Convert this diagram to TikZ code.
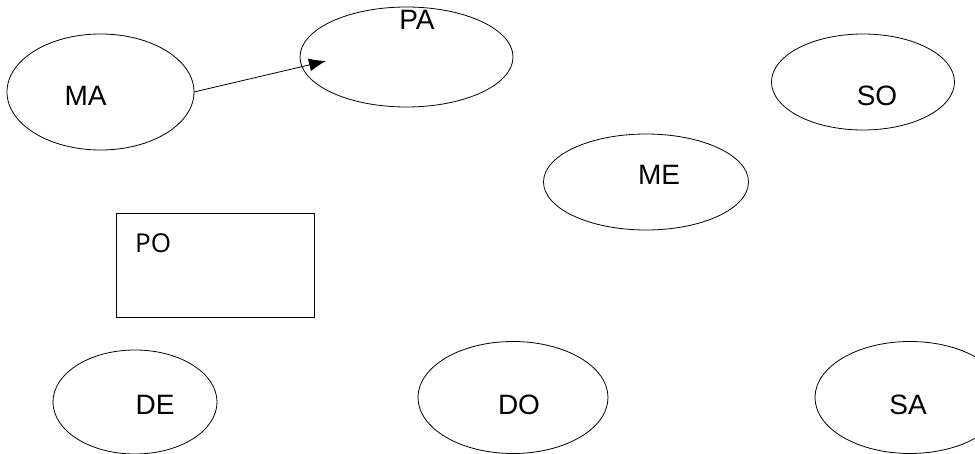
\documentclass[tikz,border=0pt]{standalone}
\usepackage{fontspec}
\setmainfont{Liberation Sans}
\newfontfamily\posans{Open Sans}
\usetikzlibrary{shapes.geometric,arrows.meta}
\tikzset{
  oval/.style={draw=black, line width=0.8pt, ellipse, inner sep=0pt, outer sep=0pt},
  lbl/.style={inner sep=0pt, font=\fontsize{28}{30}\selectfont},
  box/.style={draw=black, line width=0.8pt, inner sep=0pt, outer sep=0pt},
  link/.style={line width=0.8pt, -{Latex[length=17pt,width=13pt]}}
}
\begin{document}
\begin{tikzpicture}[x=1pt,y=-1pt]
\useasboundingbox (0,0) rectangle (975,454);
% ellipses
\node[oval, minimum width=187pt, minimum height=116pt] (MA) at (100.5,92) {};
\node[oval, minimum width=213pt, minimum height=100pt] (PA) at (406.5,57) {};
\node[oval, minimum width=183pt, minimum height=96pt] (SO) at (863,82) {};
\node[oval, minimum width=205pt, minimum height=96pt] (ME) at (646,182) {};
\node[oval, minimum width=164pt, minimum height=104pt] (DE) at (135,402) {};
\node[oval, minimum width=190pt, minimum height=112pt] (DO) at (513,397.5) {};
\node[oval, minimum width=190pt, minimum height=112pt] (SA) at (910,397.5) {};
% rectangle
\node[box, minimum width=198pt, minimum height=104pt] (PO) at (215,265) {};
% labels
\node[lbl] (MAt) at (85.5,96) {MA};
\node[lbl] (PAt) at (417,20) {PA};
\node[lbl] (SOt) at (877,96) {SO};
\node[lbl] (MEt) at (659,175) {ME};
\node[lbl] (DEt) at (155,405) {DE};
\node[lbl] (DOt) at (519,405) {DO};
\node[lbl] (SAt) at (908,405) {SA};
\node[inner sep=0pt, anchor=west, font=\posans\fontsize{26}{28}\selectfont] (POt) at (135,243) {PO};
% connector
\coordinate (tip) at (326,61);
\draw[link] (MA.east) -- (tip);
\end{tikzpicture}
\end{document}
